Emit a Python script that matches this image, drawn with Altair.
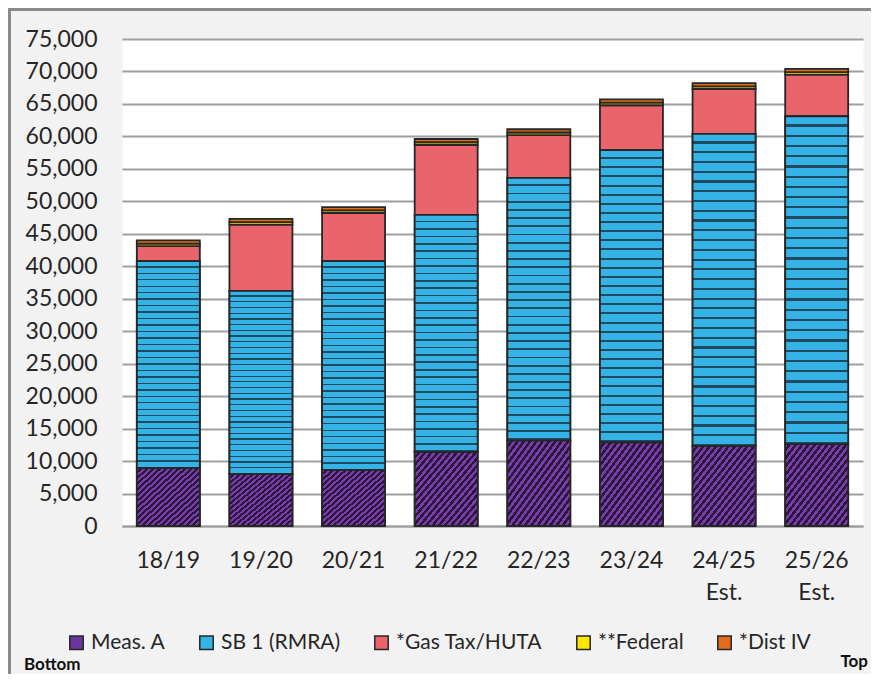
import altair as alt
import pandas as pd

years = ["18/19", "19/20", "20/21", "21/22", "22/23", "23/24", "24/25\nEst.", "25/26\nEst."]
sources = ["Meas. A", "SB 1 (RMRA)", "*Gas Tax/HUTA", "**Federal", "*Dist IV"]
meas_a = [8900, 8000, 8600, 11400, 13200, 12900, 12300, 12600]
sb1 = [31900, 28200, 32200, 36500, 40400, 45000, 48100, 50500]
gas_tax = [2300, 10200, 7400, 10800, 6600, 6900, 6900, 6400]
federal = [400, 400, 400, 400, 400, 400, 400, 400]
dist_iv = [500, 500, 500, 500, 500, 500, 500, 500]
y_ticks = [0, 5000, 10000, 15000, 20000, 25000, 30000, 35000, 40000, 45000,
           50000, 55000, 60000, 65000, 70000, 75000]

colors = ["#6a35a0", "#35b2e6", "#ea646c", "#ffe600", "#e36c1d"]

series = [meas_a, sb1, gas_tax, federal, dist_iv]
rows = []
for i, yr in enumerate(years):
    base = 0
    for k, s in enumerate(sources):
        v = series[k][i]
        rows.append({"year": yr, "source": s, "order": k, "value": v,
                     "start": base, "end": base + v})
        base += v
df = pd.DataFrame(rows)


def stripes(c1, c2, n, frac, x2, y2):
    stops = []
    for i in range(n):
        a = i / n
        b = (i + frac) / n
        c = (i + 1) / n
        stops += [{"offset": a, "color": c1}, {"offset": b, "color": c1},
                  {"offset": b, "color": c2}, {"offset": c, "color": c2}]
    return {"gradient": "linear", "x1": 0, "y1": 0, "x2": x2, "y2": y2, "stops": stops}


FONT = "Lato"
TXT = "#262626"
GRID = "#a0a0a0"

x_enc = alt.X("year:N", sort=years,
              scale=alt.Scale(paddingInner=0.32, paddingOuter=0.16),
              axis=alt.Axis(title=None, labelAngle=0,
                            labelExpr="split(datum.label, '\\n')",
                            labelFont=FONT, labelFontSize=23, labelColor=TXT,
                            labelPadding=23, labelLineHeight=32, ticks=False,
                            domainColor=GRID, domainWidth=2))
y_enc = alt.Y("start:Q", scale=alt.Scale(domain=[0, 75000], nice=False),
              axis=alt.Axis(title=None, values=y_ticks, format=",.0f",
                            labelFont=FONT, labelFontSize=23, labelColor=TXT,
                            labelPadding=25, ticks=False, domain=False,
                            gridColor=GRID, gridWidth=2))

bars = alt.Chart(df).mark_bar(stroke="#262626", strokeWidth=1.8).encode(
    x=x_enc,
    y=y_enc,
    y2="end:Q",
    color=alt.Color("source:N",
                    scale=alt.Scale(domain=sources, range=colors),
                    legend=alt.Legend(title=None, orient="none", legendX=-56,
                                      legendY=593, direction="horizontal",
                                      columns=5, symbolType="square",
                                      symbolSize=180, symbolStrokeColor="#262626",
                                      symbolStrokeWidth=1.5, symbolOpacity=1,
                                      labelFont=FONT, labelFontSize=21,
                                      labelColor=TXT, labelOffset=4,
                                      columnPadding=30, labelLimit=300)),
    order="order:Q",
)

meas_tex = alt.Chart(df).transform_filter(alt.datum.source == "Meas. A").mark_bar(
    fill=stripes("#7a3db0", "#2b1838", 20, 0.5, 1, 1),
    stroke="#262626", strokeWidth=1.8
).encode(x=x_enc, y=y_enc, y2="end:Q")

sb_tex = alt.Chart(df).transform_filter(alt.datum.source == "SB 1 (RMRA)").mark_bar(
    fill=stripes("#35b2e6", "#1f4a60", 32, 0.78, 0, 1),
    stroke="#262626", strokeWidth=1.8
).encode(x=x_enc, y=y_enc, y2="end:Q")

one = pd.DataFrame({"k": [0]})
frame_top = alt.Chart(one).mark_rule(color="#8a8a8a", strokeWidth=3).encode(
    x=alt.value(-114), x2=alt.value(749), y=alt.value(-29.5))
frame_left = alt.Chart(one).mark_rule(color="#8a8a8a", strokeWidth=3).encode(
    x=alt.value(-112.5), y=alt.value(-31), y2=alt.value(635))

lab_bottom = alt.Chart(pd.DataFrame({"t": ["Bottom"]})).mark_text(
    font=FONT, fontSize=17, fontWeight="bold", color="#111111",
    align="left", baseline="alphabetic").encode(
    text="t:N", x=alt.value(-98), y=alt.value(631))
lab_top = alt.Chart(pd.DataFrame({"t": ["Top"]})).mark_text(
    font=FONT, fontSize=17, fontWeight="bold", color="#111111",
    align="right", baseline="alphabetic").encode(
    text="t:N", x=alt.value(746), y=alt.value(628))

chart = alt.layer(bars, meas_tex, sb_tex, frame_top, frame_left, lab_bottom, lab_top).properties(
    width=741, height=487,
    autosize=alt.AutoSizeParams(type="none"),
    padding={"left": 114, "top": 31, "right": 8, "bottom": 148},
    background="#f2f2f2",
).configure_view(fill="white", stroke="transparent")

chart.save("out.html", embed_options={"renderer": "svg", "actions": False})
